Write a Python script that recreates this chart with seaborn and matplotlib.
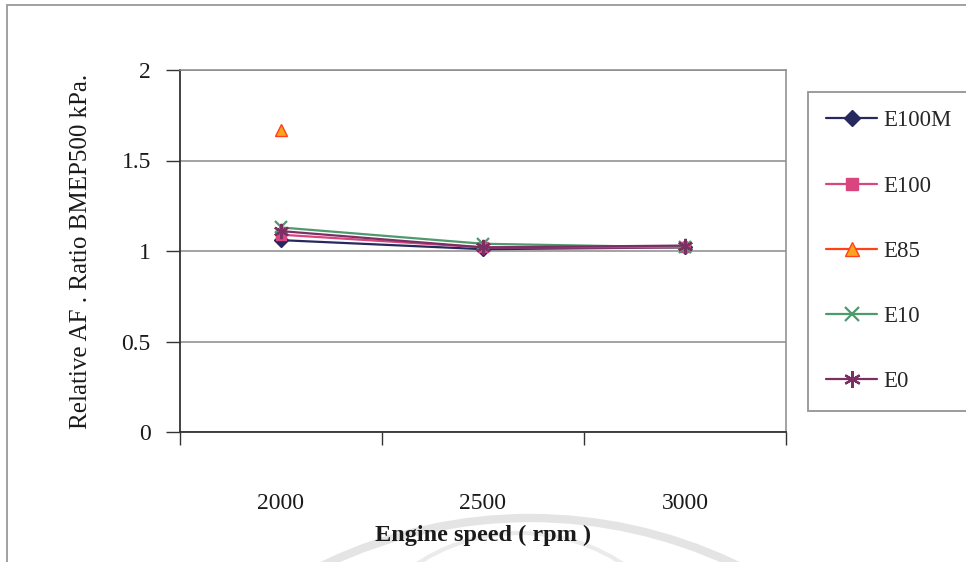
import numpy as np
import pandas as pd
import seaborn as sns
import matplotlib
matplotlib.use("Agg")
import matplotlib.pyplot as plt
from matplotlib.lines import Line2D
from matplotlib.patches import Rectangle, Arc
from matplotlib.ticker import FixedLocator, FixedFormatter, NullFormatter

# Engine speed categories (rpm)
speeds = ["2000", "2500", "3000"]

# Relative air/fuel ratio at BMEP 500 kPa for each fuel blend
e100m = [1.06, 1.01, 1.02]
e100 = [1.09, 1.02, 1.02]
e85 = [1.67, np.nan, np.nan]
e10 = [1.13, 1.04, 1.02]
e0 = [1.11, 1.02, 1.03]

fuels = ["E100M", "E100", "E85", "E10", "E0"]
series = [e100m, e100, e85, e10, e0]

y_ticks = [0, 0.5, 1, 1.5, 2]
y_tick_labels = ["0", "0.5", "1", "1.5", "2"]

sns.set_style("white")
plt.rcParams["font.family"] = ["Liberation Serif", "DejaVu Serif"]

# per-fuel look: line colour, marker, face colour, edge colour, size
styles = {
    "E100M": dict(color="#27295e", marker="D", mfc="#27295e", mec="#27295e", ms=7),
    "E100": dict(color="#d8457f", marker="s", mfc="#d8457f", mec="#d8457f", ms=7),
    "E85": dict(color="#ff4019", marker="^", mfc="#f7a51e", mec="#ff4019", ms=9),
    "E10": dict(color="#4e9a6c", marker="x", mfc="#4e9a6c", mec="#4e9a6c", ms=9),
    "E0": dict(color="#7b2f63", marker=(6, 2, 0), mfc="#7b2f63", mec="#7b2f63", ms=11),
}

fig = plt.figure(figsize=(9.66, 5.62), dpi=100)
ax = fig.add_axes([180 / 966, 1 - 432 / 562, 606 / 966, 362 / 562])

for fuel, vals in zip(fuels, series):
    st = styles[fuel]
    df = pd.DataFrame({"speed": speeds, "ratio": vals})
    sns.lineplot(data=df, x="speed", y="ratio", ax=ax, sort=False,
                 color=st["color"], marker=st["marker"], markersize=st["ms"],
                 markerfacecolor=st["mfc"], markeredgecolor=st["mec"],
                 markeredgewidth=1.6 if fuel in ("E10", "E0") else 1.0,
                 linewidth=1.6, zorder=3)

ax.set_xlim(-0.5, 2.5)
ax.set_ylim(0, 2)

# category boundaries carry the tick marks, labels sit at the centres
ax.xaxis.set_major_locator(FixedLocator([-0.5, 0.5, 1.5, 2.5]))
ax.xaxis.set_major_formatter(NullFormatter())
ax.xaxis.set_minor_locator(FixedLocator([0, 1, 2]))
ax.xaxis.set_minor_formatter(FixedFormatter(speeds))
ax.tick_params(axis="x", which="major", direction="out", length=9, width=1,
               color="#333333", bottom=True)
ax.tick_params(axis="x", which="minor", length=0, pad=44, labelsize=17,
               labelcolor="#1a1a1a")

ax.set_yticks(y_ticks)
ax.set_yticklabels(y_tick_labels)
ax.tick_params(axis="y", direction="out", length=10, width=1, color="#333333",
               left=True, labelsize=17, labelcolor="#1a1a1a", pad=11)

ax.grid(axis="y", color="#8a8a8a", linewidth=1.1, zorder=0)
ax.grid(axis="x", visible=False)

for side in ("left", "bottom"):
    ax.spines[side].set_color("#333333")
    ax.spines[side].set_linewidth(1.3)
for side in ("top", "right"):
    ax.spines[side].set_color("#8a8a8a")
    ax.spines[side].set_linewidth(1.1)

ax.set_xlabel("Engine speed ( rpm )", fontsize=17.5, fontweight="bold",
              color="#1a1a1a", labelpad=7.5)
ax.set_ylabel("Relative AF . Ratio BMEP500 kPa.", fontsize=18,
              color="#1a1a1a")
ax.yaxis.set_label_coords(-(180 - 92) / 606, 0.5)

# legend box on the right
handles = []
for fuel in fuels:
    st = styles[fuel]
    handles.append(Line2D([0], [0], color=st["color"], marker=st["marker"],
                          markersize=st["ms"] + 1, markerfacecolor=st["mfc"],
                          markeredgecolor=st["mec"],
                          markeredgewidth=1.6 if fuel in ("E10", "E0") else 1.0,
                          linewidth=1.6))
leg = fig.legend(handles, fuels, loc="upper left",
                 bbox_to_anchor=(808 / 966, 1 - 92 / 562, 0.3, 0.0),
                 mode="expand", frameon=True, fancybox=False, fontsize=16.5,
                 labelspacing=1.93, handlelength=2.2, handletextpad=0.3,
                 borderpad=0.8, borderaxespad=0)
leg.get_frame().set_edgecolor("#7a7a7a")
leg.get_frame().set_linewidth(1.3)

# outer frame of the chart area
fig.add_artist(Rectangle((7 / 966, -0.1), 1.2, 1 - 5 / 562 + 0.1,
                         transform=fig.transFigure, fill=False,
                         edgecolor="#9a9a9a", linewidth=1.3))

# faint circular stamp showing through along the bottom edge
W, H = 966, 562
fig.add_artist(Arc((530 / W, 1 - 994 / H), 2 * 476 / W, 2 * 476 / H,
                   theta1=55, theta2=125, transform=fig.transFigure,
                   color="#e4e4e4", linewidth=6, zorder=0))
fig.add_artist(Arc((520 / W, 1 - 720 / H), 2 * 187 / W, 2 * 187 / H,
                   theta1=30, theta2=150, transform=fig.transFigure,
                   color="#ebebeb", linewidth=3, zorder=0))

fig.savefig("out.png", dpi=100)
